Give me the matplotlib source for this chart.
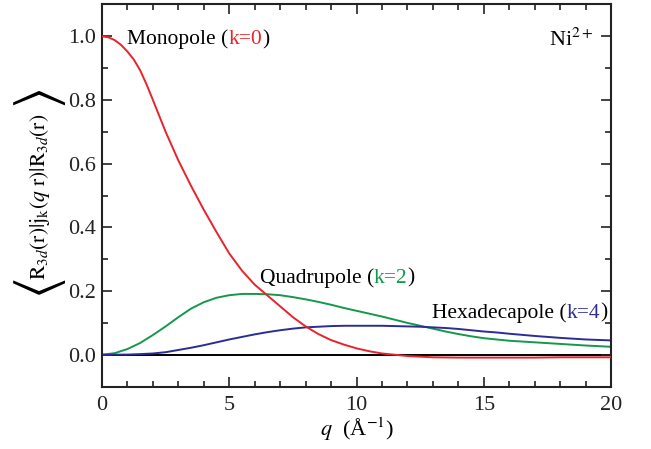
import matplotlib
matplotlib.use("Agg")
import matplotlib.pyplot as plt
from matplotlib.ticker import MultipleLocator

# ----------------------------------------------------------------------
# Data
# ----------------------------------------------------------------------
q_mono = [0, 0.25, 0.5, 0.75, 1, 1.25, 1.5, 1.75, 2, 2.5, 3, 3.5, 4, 4.5,
          5, 5.5, 6, 6.5, 7, 7.5, 8, 8.5, 9, 9.5, 10, 10.5, 11, 11.5, 12,
          12.5, 13, 14, 15, 16, 17, 18, 19, 20]
mono = [1.0, 0.997, 0.988, 0.973, 0.952, 0.927, 0.893, 0.849, 0.80, 0.70,
        0.61, 0.53, 0.455, 0.385, 0.318, 0.264, 0.220, 0.186, 0.152,
        0.118, 0.089, 0.065, 0.046, 0.032, 0.020, 0.011, 0.004, 0.0,
        -0.004, -0.006, -0.008, -0.009, -0.009, -0.009, -0.009, -0.008,
        -0.008, -0.008]

q_quad = [0, 0.5, 1, 1.5, 2, 2.5, 3, 3.5, 4, 4.5, 5, 5.5, 6, 6.5, 7, 7.5,
          8, 8.5, 9, 9.5, 10, 10.5, 11, 11.5, 12, 12.5, 13, 13.5, 14,
          14.5, 15, 16, 17, 18, 19, 20]
quad = [0.0, 0.005, 0.018, 0.037, 0.062, 0.089, 0.118, 0.145, 0.165,
        0.179, 0.187, 0.191, 0.191, 0.190, 0.187, 0.181, 0.174, 0.166,
        0.157, 0.147, 0.138, 0.129, 0.120, 0.110, 0.100, 0.091, 0.082,
        0.073, 0.065, 0.058, 0.052, 0.044, 0.039, 0.034, 0.029, 0.025]

q_hexa = [0, 1, 1.5, 2, 2.5, 3, 3.5, 4, 4.5, 5, 5.5, 6, 6.5, 7, 7.5, 8,
          8.5, 9, 9.5, 10, 10.5, 11, 11.5, 12, 12.5, 13, 13.5, 14, 14.5,
          15, 15.5, 16, 17, 18, 19, 20]
hexa = [0.0, 0.0005, 0.002, 0.004, 0.008, 0.015, 0.022, 0.030, 0.039,
        0.048, 0.056, 0.064, 0.071, 0.077, 0.082, 0.086, 0.088, 0.090,
        0.091, 0.091, 0.091, 0.091, 0.090, 0.089, 0.088, 0.086, 0.084,
        0.081, 0.077, 0.073, 0.070, 0.066, 0.059, 0.053, 0.048, 0.045]

RED = "#e8232b"
GREEN = "#14984a"
BLUE = "#2b2c96"
FS = 16      # tick labels
FS_T = 15.5  # curve labels

plt.rcParams["font.family"] = ["Liberation Serif", "DejaVu Serif"]
plt.rcParams["mathtext.fontset"] = "stix"

fig = plt.figure(figsize=(6.51, 4.49), dpi=100)
ax = fig.add_axes([0.1567, 0.139, 0.782, 0.851])

ax.axhline(0, color="black", lw=1.4, zorder=1)
ax.plot(q_mono, mono, color=RED, lw=1.4, zorder=3)
ax.plot(q_quad, quad, color=GREEN, lw=1.4, zorder=2)
ax.plot(q_hexa, hexa, color=BLUE, lw=1.4, zorder=2)

ax.set_xlim(0, 20)
ax.set_ylim(-0.1, 1.1)
ax.xaxis.set_major_locator(MultipleLocator(5))
ax.xaxis.set_minor_locator(MultipleLocator(1))
ax.yaxis.set_minor_locator(MultipleLocator(0.1))
ax.set_yticks([0.0, 0.2, 0.4, 0.6, 0.8, 1.0])
ax.set_yticklabels(["0.0", "0.2", "0.4", "0.6", "0.8", "1.0"])
ax.tick_params(which="both", direction="in", top=True, right=True,
               labelsize=FS, width=1.2, colors="#222222")
ax.tick_params(which="major", length=7)
ax.tick_params(which="minor", length=4)
ax.tick_params(axis="x", which="major", pad=7)
ax.tick_params(axis="y", which="major", pad=4)
for s in ax.spines.values():
    s.set_linewidth(1.5)
    s.set_color("#222222")

ax.set_xlabel(r"$q$  (Å$^{\mathrm{-1}}$)", fontsize=FS, labelpad=0)

# y label with big angle brackets
fig.text(0.0614, 0.562,
         r"$\mathrm{R}_{3d}(\mathrm{r})|\mathrm{j}_{\mathrm{k}}(q\ \mathrm{r})|\mathrm{R}_{3d}(\mathrm{r})$",
         rotation=90, ha="center", va="center", fontsize=15.5)
fig.text(0.0614, 0.358, r"$\langle$", rotation=90, ha="center", va="center",
         fontsize=40)
fig.text(0.0614, 0.780, r"$\rangle$", rotation=90, ha="center", va="center",
         fontsize=40)


def label(x, y, name, k, color):
    t = ax.text(x, y, name + " (", fontsize=FS_T, ha="left", va="center")
    t2 = ax.annotate("k=%d" % k, xycoords=t, xy=(1, 0), va="bottom",
                     fontsize=FS_T, color=color)
    ax.annotate(")", xycoords=t2, xy=(1, 0), va="bottom", fontsize=FS_T)


label(1.0, 0.99, "Monopole", 0, RED)
label(6.2, 0.241, "Quadrupole", 2, GREEN)
label(12.95, 0.131, "Hexadecapole", 4, BLUE)

ax.text(19.3, 0.99, r"Ni$^{2+}$", fontsize=FS, ha="right", va="center")

fig.savefig("out.png", dpi=100)
